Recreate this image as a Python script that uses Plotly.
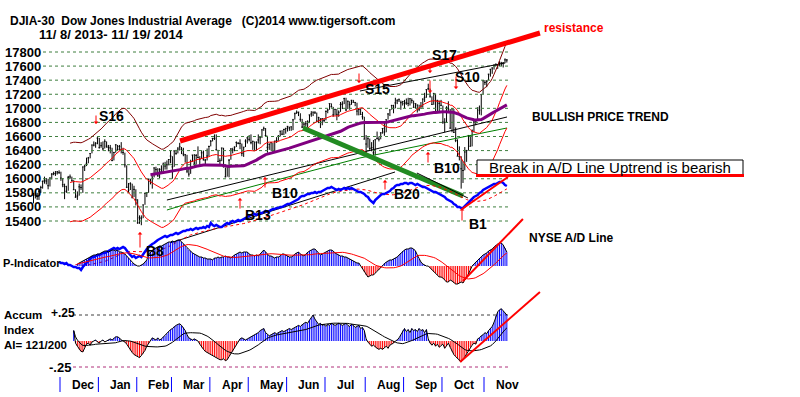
import pandas as pd
import plotly.graph_objects as go

W, H = 800, 397

# ---------------- trading calendar ----------------
HOLIDAYS = ["2013-11-28", "2013-12-25", "2014-01-01", "2014-01-20", "2014-02-17",
            "2014-04-18", "2014-05-26", "2014-07-04", "2014-09-01"]
dates = [d for d in pd.bdate_range("2013-11-08", "2014-11-19")
         if d.strftime("%Y-%m-%d") not in HOLIDAYS]

# ---------------- DJIA daily closes / highs / lows ----------------
close_2013_11 = [15762, 15783, 15751, 15822, 15876, 15962, 15976, 15967, 15901, 16010, 16065, 16073, 16073, 16097, 16086]
high_2013_11 = [15800, 15820, 15800, 15840, 15900, 15975, 16030, 16010, 16000, 16020, 16080, 16100, 16110, 16110, 16120]
low_2013_11 = [15650, 15720, 15700, 15700, 15800, 15860, 15930, 15920, 15850, 15890, 15990, 16050, 16040, 16060, 16070]

close_2013_12 = [16009, 15915, 15890, 15822, 16020, 16026, 15973, 15844, 15739, 15755, 15885, 15875, 16168, 16179, 16221, 16295, 16358, 16480, 16478, 16504, 16577]
high_2013_12 = [16100, 16010, 15930, 15900, 16040, 16060, 16030, 15980, 15850, 15820, 15930, 15920, 16170, 16200, 16300, 16310, 16360, 16480, 16530, 16520, 16590]
low_2013_12 = [15970, 15880, 15710, 15800, 15830, 16000, 15960, 15840, 15730, 15700, 15760, 15840, 15800, 16110, 16180, 16220, 16290, 16360, 16460, 16440, 16490]

close_2014_01 = [16441, 16470, 16425, 16531, 16463, 16445, 16437, 16258, 16374, 16482, 16417, 16459, 16414, 16373, 16197, 15879, 15838, 15929, 15739, 15849, 15699]
high_2014_01 = [16580, 16520, 16530, 16560, 16530, 16480, 16480, 16440, 16380, 16490, 16480, 16480, 16520, 16440, 16370, 16190, 15940, 15950, 15930, 15900, 15850]
low_2014_01 = [16430, 16440, 16400, 16430, 16440, 16390, 16360, 16250, 16260, 16370, 16400, 16400, 16360, 16340, 16160, 15870, 15800, 15840, 15720, 15740, 15620]

close_2014_02 = [15373, 15445, 15440, 15629, 15794, 15802, 15995, 15964, 16028, 16154, 16130, 16041, 16133, 16103, 16207, 16180, 16198, 16273, 16322]
high_2014_02 = [15710, 15480, 15480, 15630, 15800, 15810, 16000, 16000, 16030, 16160, 16170, 16150, 16150, 16190, 16230, 16240, 16260, 16280, 16400]
low_2014_02 = [15360, 15360, 15340, 15440, 15630, 15740, 15800, 15920, 15860, 16020, 16080, 16030, 16010, 16100, 16100, 16130, 16130, 16190, 16220]

close_2014_03 = [16168, 16396, 16360, 16422, 16453, 16419, 16351, 16340, 16109, 16066, 16247, 16336, 16222, 16331, 16303, 16277, 16368, 16269, 16264, 16323, 16458]
high_2014_03 = [16320, 16400, 16410, 16450, 16510, 16450, 16440, 16350, 16340, 16140, 16270, 16340, 16350, 16350, 16460, 16320, 16400, 16400, 16280, 16430, 16470]
low_2014_03 = [16000, 16170, 16340, 16360, 16400, 16350, 16320, 16230, 16080, 16030, 16070, 16240, 16160, 16200, 16290, 16200, 16280, 16260, 16200, 16260, 16320]

close_2014_04 = [16533, 16573, 16573, 16413, 16246, 16256, 16437, 16170, 16027, 16173, 16263, 16425, 16409, 16449, 16514, 16502, 16502, 16361, 16449, 16535, 16581]
high_2014_04 = [16550, 16580, 16630, 16630, 16410, 16290, 16440, 16440, 16160, 16190, 16280, 16430, 16440, 16460, 16530, 16520, 16560, 16500, 16450, 16560, 16590]
low_2014_04 = [16460, 16530, 16550, 16400, 16240, 16200, 16250, 16160, 16020, 16030, 16020, 16270, 16360, 16390, 16450, 16490, 16420, 16320, 16310, 16450, 16500]

close_2014_05 = [16559, 16513, 16531, 16401, 16519, 16551, 16583, 16695, 16715, 16614, 16447, 16491, 16512, 16374, 16533, 16543, 16606, 16676, 16633, 16699, 16717]
high_2014_05 = [16620, 16630, 16540, 16530, 16530, 16630, 16590, 16700, 16740, 16720, 16610, 16500, 16520, 16510, 16540, 16590, 16620, 16680, 16690, 16710, 16720]
low_2014_05 = [16530, 16490, 16410, 16400, 16400, 16500, 16490, 16580, 16680, 16600, 16370, 16410, 16400, 16360, 16370, 16510, 16540, 16600, 16620, 16620, 16640]

close_2014_06 = [16744, 16722, 16738, 16836, 16924, 16943, 16946, 16844, 16734, 16776, 16781, 16808, 16907, 16921, 16947, 16937, 16818, 16868, 16846, 16852, 16827]
high_2014_06 = [16750, 16740, 16740, 16850, 16940, 16970, 16950, 16930, 16850, 16800, 16820, 16830, 16910, 16960, 16950, 16960, 16940, 16880, 16860, 16860, 16860]
low_2014_06 = [16670, 16680, 16680, 16690, 16840, 16920, 16890, 16810, 16720, 16720, 16740, 16730, 16790, 16880, 16890, 16920, 16800, 16790, 16720, 16760, 16800]

close_2014_07 = [16956, 16976, 17068, 17024, 16907, 16986, 16915, 16944, 17055, 17061, 17138, 16977, 17100, 17052, 17114, 17087, 17084, 16961, 16983, 16912, 16880, 16563]
high_2014_07 = [16970, 16990, 17070, 17070, 17020, 16990, 16990, 16970, 17090, 17100, 17150, 17150, 17110, 17100, 17120, 17120, 17090, 17080, 16990, 17000, 16950, 16880]
low_2014_07 = [16830, 16930, 16980, 17010, 16880, 16900, 16830, 16880, 16950, 16990, 17060, 16960, 16990, 16980, 17050, 17080, 17030, 16900, 16900, 16910, 16840, 16560]

close_2014_08 = [16493, 16569, 16429, 16443, 16368, 16554, 16570, 16561, 16652, 16714, 16663, 16839, 16920, 16979, 17039, 17001, 17077, 17107, 17122, 17080, 17098]
high_2014_08 = [16620, 16590, 16570, 16520, 16550, 16560, 16670, 16600, 16660, 16720, 16800, 16840, 16930, 16980, 17050, 17050, 17150, 17130, 17140, 17110, 17100]
low_2014_08 = [16330, 16440, 16410, 16390, 16330, 16330, 16560, 16530, 16560, 16640, 16610, 16660, 16840, 16890, 16980, 16930, 17000, 17060, 17090, 16980, 17040]

close_2014_09 = [17068, 17078, 17070, 17137, 17111, 17014, 17069, 17049, 16988, 17031, 17132, 17157, 17266, 17280, 17173, 17056, 17210, 16946, 17113, 17071, 17043]
high_2014_09 = [17120, 17140, 17150, 17140, 17140, 17110, 17070, 17050, 17050, 17090, 17140, 17220, 17270, 17350, 17280, 17170, 17220, 17210, 17120, 17110, 17120]
low_2014_09 = [17000, 17050, 17030, 17040, 17070, 17010, 17000, 16940, 16960, 16990, 17010, 17090, 17150, 17260, 17150, 17050, 17050, 16940, 16940, 16960, 17030]

close_2014_10 = [16805, 16801, 17010, 16992, 16719, 16994, 16659, 16544, 16321, 16315, 16142, 16117, 16380, 16400, 16615, 16461, 16678, 16805, 16818, 17006, 16974, 17195, 17391]
high_2014_10 = [17040, 16860, 17030, 17100, 16990, 17000, 16990, 16730, 16560, 16460, 16320, 16250, 16450, 16410, 16620, 16620, 16700, 16820, 16840, 17010, 17040, 17200, 17400]
low_2014_10 = [16780, 16660, 16800, 16960, 16710, 16660, 16650, 16520, 16320, 16260, 15860, 15940, 16120, 16240, 16400, 16460, 16460, 16660, 16760, 16820, 16910, 16900, 17200]

close_2014_11 = [17366, 17384, 17485, 17554, 17574, 17614, 17615, 17612, 17653, 17635, 17648, 17688, 17686]
high_2014_11 = [17400, 17400, 17490, 17560, 17580, 17620, 17640, 17620, 17670, 17660, 17650, 17710, 17700]
low_2014_11 = [17330, 17300, 17400, 17450, 17490, 17550, 17600, 17560, 17600, 17600, 17580, 17640, 17650]

close = (close_2013_11 + close_2013_12 + close_2014_01 + close_2014_02 + close_2014_03 + close_2014_04 +
         close_2014_05 + close_2014_06 + close_2014_07 + close_2014_08 + close_2014_09 + close_2014_10 + close_2014_11)
high = (high_2013_11 + high_2013_12 + high_2014_01 + high_2014_02 + high_2014_03 + high_2014_04 +
        high_2014_05 + high_2014_06 + high_2014_07 + high_2014_08 + high_2014_09 + high_2014_10 + high_2014_11)
low = (low_2013_11 + low_2013_12 + low_2014_01 + low_2014_02 + low_2014_03 + low_2014_04 +
       low_2014_05 + low_2014_06 + low_2014_07 + low_2014_08 + low_2014_09 + low_2014_10 + low_2014_11)

n = min(len(dates), len(close), len(high), len(low))
idx = list(range(n))
close, high, low = close[:n], high[:n], low[:n]

price_ticks = [15400, 15600, 15800, 16000, 16200, 16400, 16600, 16800, 17000, 17200, 17400, 17600, 17800]

# ---------------- NYSE A/D line (cumulative, arbitrary units) ----------------
ad_start = 14
ad_line = [20, 19, 19, 18, 19, 17, 17,
           16, 15, 15, 14, 14, 12,
           15, 17, 20, 22, 24,
           25, 25, 26, 27, 27,
           28, 29, 29, 30, 31, 32, 33,
           34, 33, 34, 33, 34, 35, 34,
           31, 29, 27, 25,
           26, 24, 25, 26, 25,
           28, 31, 33, 35,
           37, 38, 39, 41, 42,
           43, 44, 45, 46, 45, 46, 47,
           47, 48, 49, 48, 49, 50, 51, 51, 52, 52,
           53, 52, 53, 54, 53, 54, 54,
           55, 54, 56, 55, 59,
           57, 56, 57, 56, 55, 55,
           57, 58, 59, 58, 60,
           61, 60, 61, 62, 61, 62,
           63, 64, 65, 66, 67,
           67, 68, 67, 68, 69, 69,
           70, 71, 70, 71, 72,
           73, 73, 74, 74, 75, 75,
           76, 77, 78, 78, 79,
           80, 81, 82, 83, 85,
           86, 86, 87, 88, 88, 89,
           89, 90, 89, 90, 90,
           91, 92, 93, 94, 94, 95,
           94, 93, 92, 93, 92,
           93, 94, 93, 94, 93, 94,
           93, 92, 91, 90, 90,
           89, 88, 86, 85,
           82, 80, 79,
           82, 84, 86, 87,
           88, 88, 89, 90,
           91, 93, 94, 96, 97,
           97, 98, 98, 99, 99, 98, 99, 99,
           98, 97, 98, 97, 96, 95, 95,
           94, 93, 92, 91, 90, 90, 89,
           88, 87, 86, 85, 83, 82,
           81, 80, 78, 77, 75, 75, 74, 74,
           76, 78, 80, 82,
           83, 85, 86, 87, 89, 90, 92,
           93, 94, 95, 96, 97, 98, 98, 99,
           100, 100, 99, 97, 96]

# ---------------- P-Indicator ----------------
p_start = 24
p_indicator = [2, 3, 4, 5, 6, 7,
               8, 9, 10, 11, 11, 12, 12,
               13, 14, 15, 15, 14, 15, 16,
               16, 15, 16, 14, 14, 13,
               12, 10, 8, 6, 3, 2,
               1, 0, 0, 1, 2, 4,
               6, 12, 14, 16, 17, 18,
               19, 20, 20, 21, 22, 23, 24,
               24, 25, 24, 25, 26, 26, 24, 22,
               20, 18, 16, 15, 13, 12, 11,
               10, 9, 9, 8, 8, 7, 7,
               7, 6, 8, 8, 9, 8, 9,
               9, 10, 9, 9, 8, 10, 11, 12,
               13, 14, 13, 14, 14, 14, 12, 11,
               11, 10, 11, 10, 12, 14,
               16, 14, 12, 10, 10, 9, 8, 9,
               9, 10, 12, 12, 11, 10, 9,
               9, 10, 12, 13, 14, 12, 11,
               10, 12, 14, 15, 16, 17, 17, 15, 13,
               11, 12, 13, 14, 15, 16,
               16, 15, 13, 12, 11, 10, 10, 9, 9,
               8, 7, 6, 5, 4, 3, 3, 0, -3,
               -6, -9, -11, -10, -9, -9, -7, -5,
               -4, -2, 1, 3, 4, 5, 6,
               6, 7, 8, 9, 11, 13, 15,
               16, 17, 17, 18, 18, 17, 15, 11, 7,
               4, 2, 1, 0, 0, -2, -4,
               -6, -7, -9, -11, -11, -12, -14, -16,
               -16, -14, -15, -17, -18, -18, -17, -16,
               -17, -14, -12, -8, -4, 0, 2, 4,
               6, 8, 9, 11, 12, 13, 15, 16, 17,
               19, 21, 22, 23, 23, 21, 18, 14]

# ---------------- Accumulation Index ----------------
ai_start = 22
accum_index = [0.10, -0.02, -0.05, -0.08, -0.10, -0.105, -0.06,
               -0.03, -0.02, -0.04, -0.01, 0.0, 0.01, -0.01,
               -0.02, 0.0, 0.01, -0.01, 0.0, 0.01, 0.02, 0.01,
               0.03, 0.04, 0.04, 0.03, 0.01, 0.0, -0.01,
               -0.03, -0.06, -0.09, -0.11, -0.13, -0.14, -0.15,
               -0.16, -0.14, -0.12, -0.09, -0.05, -0.02,
               0.01, 0.03, 0.02, 0.01, 0.03, 0.01, 0.02, 0.04,
               0.05, 0.07, 0.09, 0.11, 0.12, 0.14, 0.15, 0.16,
               0.165, 0.15, 0.13, 0.10, 0.06, 0.03,
               0.02, 0.01, 0.02, 0.01, 0.0,
               -0.03, -0.06, -0.08, -0.10, -0.11, -0.12, -0.13, -0.14, -0.15,
               -0.16, -0.17, -0.18, -0.18, -0.17, -0.19, -0.18, -0.15,
               -0.12, -0.10, -0.07, -0.04, -0.01,
               0.02, 0.03, 0.02, 0.01, 0.02, 0.03, 0.04, 0.05,
               0.06, 0.07, 0.08, 0.10, 0.11, 0.12,
               0.08, 0.06, 0.05, 0.06, 0.07, 0.08, 0.07, 0.08, 0.09,
               0.10, 0.09, 0.10, 0.11, 0.12, 0.11, 0.12, 0.13, 0.14,
               0.15, 0.14, 0.16, 0.17, 0.18, 0.17, 0.20, 0.22,
               0.25, 0.21, 0.18, 0.16, 0.17, 0.15, 0.16, 0.14,
               0.16, 0.15, 0.17, 0.16, 0.15, 0.16, 0.17, 0.16, 0.15,
               0.16, 0.17, 0.15, 0.14, 0.16, 0.15, 0.13, 0.14,
               0.15, 0.12, 0.13, 0.10, 0.02, -0.01,
               -0.03, -0.05, -0.04, -0.06, -0.07, -0.08, -0.07, -0.08,
               -0.06, -0.05, -0.07, -0.04, -0.03, -0.02,
               0.0, 0.01, 0.03, 0.06, 0.10,
               0.12, 0.09, 0.11, 0.08, 0.12, 0.10, 0.11, 0.09,
               0.12, 0.10, 0.11, 0.08, 0.11, 0.02,
               -0.02, -0.04, -0.02, -0.05, -0.03, -0.06, -0.04, -0.03, -0.07, -0.05, -0.02,
               -0.06, -0.10, -0.13, -0.15, -0.17, -0.19, -0.20, -0.18,
               -0.15, -0.12, -0.09, -0.06, -0.04, -0.02, -0.03,
               0.02, 0.03, 0.05, 0.06, 0.08, 0.07, 0.10, 0.12, 0.14,
               0.18, 0.24, 0.28, 0.30, 0.31, 0.29, 0.27, 0.25]

# ---------------- drawn trend lines (trading-day index, value) ----------------
resistance_x, resistance_y = [80.2, 277.1], [16536, 18070]
green_trend_x, green_trend_y = [147.5, 235.0], [16721, 15755]
upper_channel_x, upper_channel_y = [178.6, 258.0], [17246, 17644]
mid_channel_x, mid_channel_y = [73.0, 259.1], [15698, 16877]
ma200_x, ma200_y = [73.0, 85.6, 178.6, 259.1], [15556, 15656, 16295, 16721]
ad_support_x, ad_support_y = [74.7, 197.8], [39, 110]
ad_down_x, ad_down_y = [209.8, 237.7], [109, 84]
ad_break_x, ad_break_y = [234.5, 259.6], [73, 105]
p_trend_x, p_trend_y = [235.0, 267.8], [-15, 47]
ai_trend_x, ai_trend_y = [233.4, 277.1], [-0.202, 0.471]

# ---------------- derived series ----------------
s = pd.Series(close, dtype=float)
ma21 = s.rolling(21).mean()
ma65 = s.rolling(65).mean()
band_up = ma21 * 1.035
band_lo = ma21 * 0.965

ad_x = list(range(ad_start, ad_start + len(ad_line)))[: max(0, n - ad_start)]
ad_line = ad_line[:len(ad_x)]
ad_ma = pd.Series(ad_line, dtype=float).rolling(21, min_periods=10).mean()

p_x = list(range(p_start, p_start + len(p_indicator)))[: max(0, n - p_start)]
p_indicator = p_indicator[:len(p_x)]
p_ma = pd.Series(p_indicator, dtype=float).rolling(21, min_periods=1).mean()

ai_x = list(range(ai_start, ai_start + len(accum_index)))[: max(0, n - ai_start)]
accum_index = accum_index[:len(ai_x)]
ai_ma = pd.Series(accum_index, dtype=float).rolling(21, min_periods=1).mean()

# ---------------- pixel layout of the scales ----------------
X0_PX, X_STEP = 33.5, 1.8276          # pixel of index 0, pixels per trading day
x_range = [-X0_PX / X_STEP, (W - X0_PX) / X_STEP]


def lin_range(v1, y1, v2, y2):
    k = (v1 - v2) / (y2 - y1)          # value per pixel (downwards)
    return [v1 - (H - y1) * k, v1 + y1 * k]


price_range = lin_range(17800, 52, 15400, 221)
ad_range = lin_range(100, 182, 12, 270)
p_range = lin_range(0, 266, 20, 246)
ai_range = lin_range(0.25, 315, -0.25, 367)


def xi(px):
    return (px - X0_PX) / X_STEP


def pxp(x):
    return x / W


def pyp(y):
    return 1 - y / H


FONT = "Liberation Sans, Arial, sans-serif"
fig = go.Figure()


def add_line(x, y, axis, color, width=1.0, dash=None):
    fig.add_trace(go.Scatter(x=x, y=y, mode="lines", yaxis=axis, hoverinfo="skip",
                             line=dict(color=color, width=width, dash=dash)))


def add_hist(xs, vals, axis):
    """Histogram drawn as thin vertical strokes from zero, blue above / red below."""
    for sign, color in ((1, "#0000ff"), (-1, "#ff0000")):
        hx, hy = [], []
        for x, v in zip(xs, vals):
            if v * sign > 0:
                hx += [x, x, None]
                hy += [0, v, None]
        add_line(hx, hy, axis, color, 1)


# price grid (dotted)
gx, gy = [], []
for t in price_ticks:
    gx += [xi(43), xi(508), None]
    gy += [t, t, None]
add_line(gx, gy, "y", "#3f7f3f", 1, "dot")

# accum index reference levels
add_line([xi(73), xi(508)], [0.25, 0.25], "y4", "#404040", 1, "dot")
add_line([xi(73), xi(508)], [-0.25, -0.25], "y4", "#b0307a", 1, "dot")

# moving-average / channel lines
add_line(ma200_x, ma200_y, "y", "#008000", 1)
add_line(mid_channel_x, mid_channel_y, "y", "#000000", 1)
add_line(upper_channel_x, upper_channel_y, "y", "#000000", 1)
add_line(idx, band_up, "y", "#800000", 1)
add_line(idx, band_lo, "y", "#ff0000", 1)
add_line(idx, ma21, "y", "#ff0000", 1)
add_line(idx, ma65, "y", "#800080", 3)

# price bars
fig.add_trace(go.Ohlc(x=idx, open=close, high=high, low=low, close=close, yaxis="y",
                      increasing=dict(line=dict(color="black", width=1)),
                      decreasing=dict(line=dict(color="black", width=1)),
                      tickwidth=0.45, hoverinfo="skip"))

# P-Indicator histogram
add_hist(p_x, p_indicator, "y3")
add_line(p_x, p_indicator, "y3", "#000000", 1)
add_line(p_x, p_ma, "y3", "#ff0000", 1)

# Accumulation Index histogram
add_hist(ai_x, accum_index, "y4")
add_line(ai_x, accum_index, "y4", "#000000", 1)
add_line(ai_x, ai_ma, "y4", "#000000", 1)

# A/D line
add_line(ad_support_x, ad_support_y, "y2", "#000000", 1)
add_line(ad_down_x, ad_down_y, "y2", "#000000", 1)
add_line(ad_x, ad_ma, "y2", "#ff0000", 1, "dot")
add_line(ad_x, ad_line, "y2", "#0000ff", 2.5)

# drawn trend lines
add_line(resistance_x, resistance_y, "y", "#ff0000", 5)
add_line(green_trend_x, green_trend_y, "y", "#228b22", 5)
add_line(ad_break_x, ad_break_y, "y2", "#ff0000", 2)
add_line(p_trend_x, p_trend_y, "y3", "#ff0000", 2)
add_line(ai_trend_x, ai_trend_y, "y4", "#ff0000", 2)

# ---------------- shapes ----------------
shapes = []
month_starts = [i for i in range(1, n) if dates[i].month != dates[i - 1].month]
for ms in month_starts:
    shapes.append(dict(type="line", xref="x", yref="paper", x0=ms - 0.5, x1=ms - 0.5,
                       y0=pyp(392), y1=pyp(377), line=dict(color="#0000ff", width=1)))
shapes.append(dict(type="rect", xref="paper", yref="paper", x0=pxp(477), x1=pxp(743),
                   y0=pyp(176), y1=pyp(160), line=dict(color="black", width=1), fillcolor="white"))
shapes.append(dict(type="line", xref="paper", yref="paper", x0=pxp(476), x1=pxp(744),
                   y0=pyp(175.5), y1=pyp(175.5), line=dict(color="#ff0000", width=3)))

# ---------------- annotations ----------------
ann = []


def text(t, x, y, size=12, color="black", bold=True, anchor="left"):
    ann.append(dict(text=("<b>%s</b>" % t) if bold else t, x=pxp(x), y=pyp(y), xref="paper", yref="paper",
                    xanchor=anchor, yanchor="middle", showarrow=False, align="left",
                    font=dict(family=FONT, size=size, color=color)))


text("DJIA-30  Dow Jones Industrial Average   (C)2014 www.tigersoft.com", 8, 21, 12)
text("11/ 8/ 2013- 11/ 19/ 2014", 37, 34, 13)
for t in price_ticks:
    ann.append(dict(text="<b>%d</b>" % t, x=pxp(43), y=t, xref="paper", yref="y", xanchor="right",
                    yanchor="middle", showarrow=False, font=dict(family=FONT, size=13, color="black")))
for ms in month_starts:
    ann.append(dict(text="<b>%s</b>" % dates[ms].strftime("%b"), x=ms + 4.8, y=pyp(385), xref="x",
                    yref="paper", xanchor="left", yanchor="middle", showarrow=False,
                    font=dict(family=FONT, size=12, color="black")))
text("resistance", 542, 28, 12, "#ff0000")
text("BULLISH PRICE TREND", 530, 117, 12)
text("NYSE A/D Line", 527, 238, 12)
text("P-Indicator", 1, 263, 11)
text("Accum<br>Index<br>AI= 121/200", 2, 330, 11.5)
text("+.25", 49, 313, 12)
text("-.25", 47, 367, 13)
text("Break in A/D Line Uptrend is bearish", 610, 168, 15, bold=False, anchor="center")

signal_text = ["S16", "B8", "B13", "B10", "B20", "B10", "B1", "S15", "S17", "S10"]
signal_lx = [97, 144, 243, 270, 392, 432, 467, 363, 430, 453]
signal_ly = [116, 251, 215, 193, 194, 168, 224, 89, 55, 77]
for t, x, y in zip(signal_text, signal_lx, signal_ly):
    text(t, x, y, 14)

arrow_x = [96, 140, 240, 265, 385, 428, 462, 359, 430, 456, 430]
arrow_tip = [124, 232, 198, 177, 180, 152, 208, 83, 73, 89, 93]
arrow_tail = [114, 249, 210, 189, 191, 164, 222, 72, 64, 75, 79]
for x, tip, tail in zip(arrow_x, arrow_tip, arrow_tail):
    ann.append(dict(x=pxp(x), y=pyp(tip), xref="paper", yref="paper", ax=0, ay=tail - tip,
                    showarrow=True, arrowhead=1, arrowsize=0.8, arrowwidth=1, arrowcolor="#ff0000", text=""))

fig.update_layout(
    width=W, height=H, margin=dict(l=0, r=0, t=0, b=0),
    paper_bgcolor="white", plot_bgcolor="white", showlegend=False,
    xaxis=dict(range=x_range, visible=False, fixedrange=True, rangeslider=dict(visible=False)),
    yaxis=dict(range=price_range, visible=False, fixedrange=True),
    yaxis2=dict(range=ad_range, overlaying="y", visible=False, fixedrange=True),
    yaxis3=dict(range=p_range, overlaying="y", visible=False, fixedrange=True),
    yaxis4=dict(range=ai_range, overlaying="y", visible=False, fixedrange=True),
    shapes=shapes, annotations=ann,
)

fig.write_html("out.html", config={"displayModeBar": False},
               post_script="document.body.style.margin='0';")
